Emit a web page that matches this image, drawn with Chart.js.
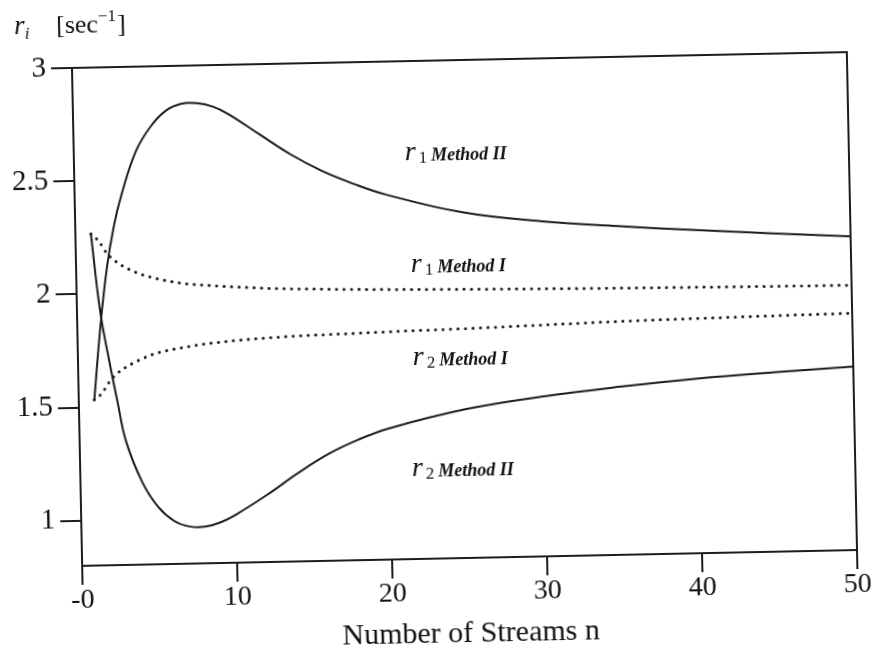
<!DOCTYPE html>
<html>
<head>
<meta charset="utf-8">
<script src="https://cdn.jsdelivr.net/npm/chart.js@4.4.1/dist/chart.umd.min.js"></script>
<style>
  html, body { margin: 0; padding: 0; background: #fff; overflow: hidden; }
  #wrap { width: 877px; height: 652px; transform: rotate(-1.17deg); transform-origin: 464px 309px; }
  canvas { display: block; }
</style>
</head>
<body>
<div id="wrap"><canvas id="c" width="877" height="652"></canvas></div>
<script>
// Number of streams n (x values shared by all four curves)
const streams = [1, 1.5, 2, 2.5, 3, 4, 5, 6, 7, 8, 9, 10, 12, 14, 16, 18, 20, 25, 30, 35, 40, 45, 50];

// r1, Method II (solid, upper)
const r1MethodII = [1.53, 1.86, 2.12, 2.30, 2.43, 2.625, 2.735, 2.803, 2.832, 2.833, 2.817, 2.783, 2.69, 2.598, 2.522, 2.463, 2.414, 2.327, 2.281, 2.252, 2.228, 2.206, 2.186];
// r2, Method II (solid, lower)
const r2MethodII = [2.265, 1.92, 1.71, 1.52, 1.345, 1.163, 1.052, 0.99, 0.964, 0.962, 0.98, 1.013, 1.096, 1.188, 1.271, 1.333, 1.38, 1.458, 1.507, 1.543, 1.572, 1.593, 1.611];
// r1, Method I (dotted, upper)
const r1MethodI = [2.265, 2.232, 2.178, 2.145, 2.121, 2.087, 2.065, 2.049, 2.037, 2.03, 2.024, 2.019, 2.01, 2.004, 2.0, 1.996, 1.993, 1.987, 1.982, 1.978, 1.975, 1.972, 1.97];
// r2, Method I (dotted, lower)
const r2MethodI = [1.532, 1.56, 1.61, 1.645, 1.67, 1.705, 1.731, 1.746, 1.757, 1.767, 1.774, 1.78, 1.789, 1.795, 1.799, 1.802, 1.806, 1.813, 1.822, 1.831, 1.837, 1.842, 1.846];

// Axis ticks
const xTickValues = [0, 10, 20, 30, 40, 50];
const xTickLabels = ['-0', '10', '20', '30', '40', '50'];
const yTickValues = [1, 1.5, 2, 2.5, 3];
const yTickLabels = ['1', '1.5', '2', '2.5', '3'];

// Curve names
const curveNames = [
  { sym: 'r', sub: '1', method: 'Method II' },
  { sym: 'r', sub: '1', method: 'Method I' },
  { sym: 'r', sub: '2', method: 'Method I' },
  { sym: 'r', sub: '2', method: 'Method II' }
];
// Where each name sits, in axis units (n, r)
const nameAnchors = [[21.35, 2.563], [21.6, 2.066], [21.6, 1.659], [21.4, 1.168]];

const INK = '#1c1c1c';
const SERIF = '"Liberation Serif", "DejaVu Serif", serif';

const toPoints = (ys) => streams.map((n, i) => ({ x: n, y: ys[i] }));

const solid = { borderColor: INK, borderWidth: 2, pointRadius: 0, fill: false, tension: 0.4 };
const dotted = { borderColor: INK, borderWidth: 3, borderDash: [0.1, 7.4], borderCapStyle: 'round', pointRadius: 0, fill: false, cubicInterpolationMode: 'monotone' };

// Frame around the plot area plus the header and curve names
const decorations = {
  id: 'decorations',
  afterDraw(chart) {
    const { ctx, chartArea: a, scales } = chart;
    ctx.save();
    ctx.strokeStyle = INK;
    ctx.lineWidth = 2;
    ctx.strokeRect(a.left, a.top, a.right - a.left, a.bottom - a.top);

    ctx.fillStyle = '#111';
    ctx.textBaseline = 'alphabetic';
    ctx.textAlign = 'left';

    // header: r_i [sec^-1]
    let x = 20, base = 25;
    ctx.font = 'italic 27px ' + SERIF;
    ctx.fillText('r', x, base);
    x += ctx.measureText('r').width;
    ctx.font = 'italic 17px ' + SERIF;
    ctx.fillText('i', x, base + 5);
    x = 62;
    ctx.font = '26px ' + SERIF;
    ctx.fillText('[sec', x, base);
    x += ctx.measureText('[sec').width;
    ctx.font = '17px ' + SERIF;
    ctx.fillText('\u22121', x, base - 11);
    x += ctx.measureText('\u22121').width + 1;
    ctx.font = '26px ' + SERIF;
    ctx.fillText(']', x, base);

    // curve names
    curveNames.forEach((c, i) => {
      let px = scales.x.getPixelForValue(nameAnchors[i][0]);
      const py = scales.y.getPixelForValue(nameAnchors[i][1]);
      ctx.font = 'italic 28px ' + SERIF;
      ctx.fillText(c.sym, px, py);
      px += ctx.measureText(c.sym).width + 3;
      ctx.font = '17px ' + SERIF;
      ctx.fillText(c.sub, px, py + 3);
      px += ctx.measureText(c.sub).width + 4;
      ctx.font = 'italic bold 18px ' + SERIF;
      ctx.fillText(c.method, px, py + 1);
    });
    ctx.restore();
  }
};

new Chart(document.getElementById('c'), {
  type: 'line',
  data: {
    datasets: [
      Object.assign({ label: 'r1 Method II', data: toPoints(r1MethodII) }, solid),
      Object.assign({ label: 'r1 Method I', data: toPoints(r1MethodI) }, dotted),
      Object.assign({ label: 'r2 Method I', data: toPoints(r2MethodI) }, dotted),
      Object.assign({ label: 'r2 Method II', data: toPoints(r2MethodII) }, solid)
    ]
  },
  options: {
    responsive: false,
    animation: false,
    devicePixelRatio: 1,
    layout: { padding: { top: 60, left: 0, right: 25, bottom: 0 } },
    plugins: { legend: { display: false }, tooltip: { enabled: false } },
    scales: {
      x: {
        type: 'linear',
        min: 0,
        max: 50,
        afterBuildTicks: (s) => { s.ticks = xTickValues.map(v => ({ value: v })); },
        afterFit: (s) => { s.height = 94; },
        ticks: {
          color: '#111',
          font: { family: SERIF, size: 28 },
          padding: -1,
          maxRotation: 0,
          callback: (v) => { const i = xTickValues.indexOf(v); return i >= 0 ? xTickLabels[i] : ''; }
        },
        grid: { drawOnChartArea: false, drawTicks: true, tickLength: 19, color: INK, lineWidth: 2 },
        border: { display: true, color: INK, width: 2 },
        title: {
          display: true,
          text: 'Number of Streams n',
          color: '#111',
          font: { family: SERIF, size: 30 },
          padding: { top: 0, bottom: 0 }
        }
      },
      y: {
        type: 'linear',
        min: 0.8,
        max: 3,
        afterBuildTicks: (s) => { s.ticks = yTickValues.map(v => ({ value: v })); },
        afterFit: (s) => { s.width = 77; },
        ticks: {
          color: '#111',
          font: { family: SERIF, size: 29 },
          padding: 5,
          callback: (v) => { const i = yTickValues.indexOf(v); return i >= 0 ? yTickLabels[i] : ''; }
        },
        grid: { drawOnChartArea: false, drawTicks: true, tickLength: 21, color: INK, lineWidth: 2 },
        border: { display: true, color: INK, width: 2 }
      }
    }
  },
  plugins: [decorations]
});
</script>
</body>
</html>
